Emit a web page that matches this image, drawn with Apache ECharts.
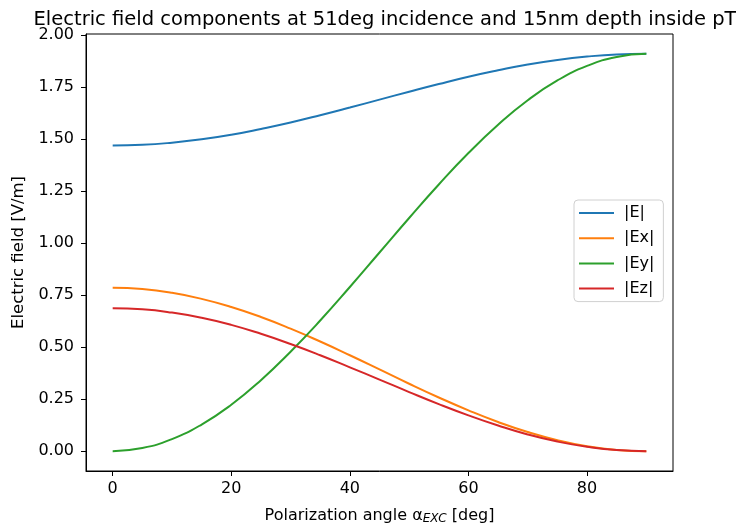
<!DOCTYPE html>
<html>
<head>
<meta charset="utf-8">
<script src="https://cdn.jsdelivr.net/npm/echarts@6/dist/echarts.min.js"></script>
<style>
  html, body { margin: 0; padding: 0; background: #fff; }
  #main { width: 736px; height: 527px; }
</style>
</head>
<body>
<div id="main"></div>
<script>
// polarization angle (deg)
const angles = [0, 5, 10, 15, 20, 25, 30, 35, 40, 45, 50, 55, 60, 65, 70, 75, 80, 85, 90];
// field components
const fieldE  = [1.470, 1.473, 1.483, 1.499, 1.521, 1.549, 1.580, 1.615, 1.652, 1.690, 1.728, 1.765, 1.800, 1.831, 1.859, 1.881, 1.897, 1.907, 1.910];
const fieldEx = [0.785, 0.779, 0.761, 0.732, 0.693, 0.645, 0.589, 0.527, 0.461, 0.393, 0.324, 0.258, 0.196, 0.140, 0.092, 0.053, 0.024, 0.006, 0.000];
const fieldEy = [0.000, 0.015, 0.058, 0.128, 0.223, 0.341, 0.478, 0.628, 0.789, 0.955, 1.121, 1.282, 1.433, 1.569, 1.687, 1.782, 1.852, 1.895, 1.910];
const fieldEz = [0.687, 0.682, 0.666, 0.641, 0.607, 0.564, 0.515, 0.461, 0.403, 0.344, 0.284, 0.226, 0.172, 0.123, 0.080, 0.046, 0.021, 0.005, 0.000];

const xTicks = [0, 20, 40, 60, 80];
const yTicks = [0, 0.25, 0.5, 0.75, 1.0, 1.25, 1.5, 1.75, 2.0];

const seriesNames = ['|E|', '|Ex|', '|Ey|', '|Ez|'];
const seriesColors = ['#1f77b4', '#ff7f0e', '#2ca02c', '#d62728'];
const seriesData = [fieldE, fieldEx, fieldEy, fieldEz];

const font = 'DejaVu Sans';
const myChart = echarts.init(document.getElementById('main'));

const option = {
  animation: false,
  backgroundColor: '#fff',
  title: {
    text: 'Electric field components at 51deg incidence and 15nm depth inside pT',
    left: 380, top: 5, textAlign: 'center',
    textStyle: { fontFamily: font, fontSize: 19.5, fontWeight: 'normal', color: '#000' }
  },
  legend: {
    orient: 'vertical',
    left: 574, top: 200,
    padding: [4, 9, 4, 5],
    itemWidth: 35, itemHeight: 2, itemGap: 7.2,
    icon: 'rect',
    borderColor: '#d0d0d0', borderWidth: 1, borderRadius: 4,
    backgroundColor: 'rgba(255,255,255,0.8)',
    textStyle: { fontFamily: font, fontSize: 16, color: '#000', lineHeight: 18, padding: [0, 0, 0, 5] },
    data: seriesNames
  },
  grid: {
    left: 86, right: 63, top: 34, bottom: 56,
    outerBoundsMode: 'none',
    show: true, borderColor: '#000', borderWidth: 1
  },
  xAxis: {
    type: 'value', min: -4.5, max: 94.5,
    name: 'Polarization angle α{sub|EXC} [deg]',
    nameLocation: 'middle', nameGap: 35,
    nameTextStyle: {
      fontFamily: font, fontSize: 16, color: '#000',
      rich: { sub: { fontFamily: font, fontSize: 12, fontStyle: 'italic', verticalAlign: 'bottom', padding: [7, 0, 0, 0], color: '#000' } }
    },
    axisLine: { show: true, onZero: false, lineStyle: { color: '#000' } },
    axisTick: { show: true, length: 5, customValues: xTicks, lineStyle: { color: '#000' } },
    axisLabel: { customValues: xTicks, fontFamily: font, fontSize: 16, color: '#000', margin: 10 },
    splitLine: { show: false }
  },
  yAxis: {
    type: 'value', min: -0.0955, max: 2.0055,
    name: 'Electric field [V/m]',
    nameLocation: 'middle', nameGap: 57,
    nameTextStyle: { fontFamily: font, fontSize: 16.5, color: '#000' },
    axisLine: { show: true, onZero: false, lineStyle: { color: '#000' } },
    axisTick: { show: true, length: 5, customValues: yTicks, lineStyle: { color: '#000' } },
    axisLabel: {
      customValues: yTicks, fontFamily: font, fontSize: 16, color: '#000', margin: 12,
      formatter: v => v.toFixed(2)
    },
    splitLine: { show: false }
  },
  series: seriesNames.map((name, i) => ({
    name: name,
    type: 'line',
    data: angles.map((a, j) => [a, seriesData[i][j]]),
    smooth: true,
    showSymbol: false,
    color: seriesColors[i],
    lineStyle: { width: 2, color: seriesColors[i] }
  }))
};

myChart.setOption(option);
</script>
</body>
</html>
